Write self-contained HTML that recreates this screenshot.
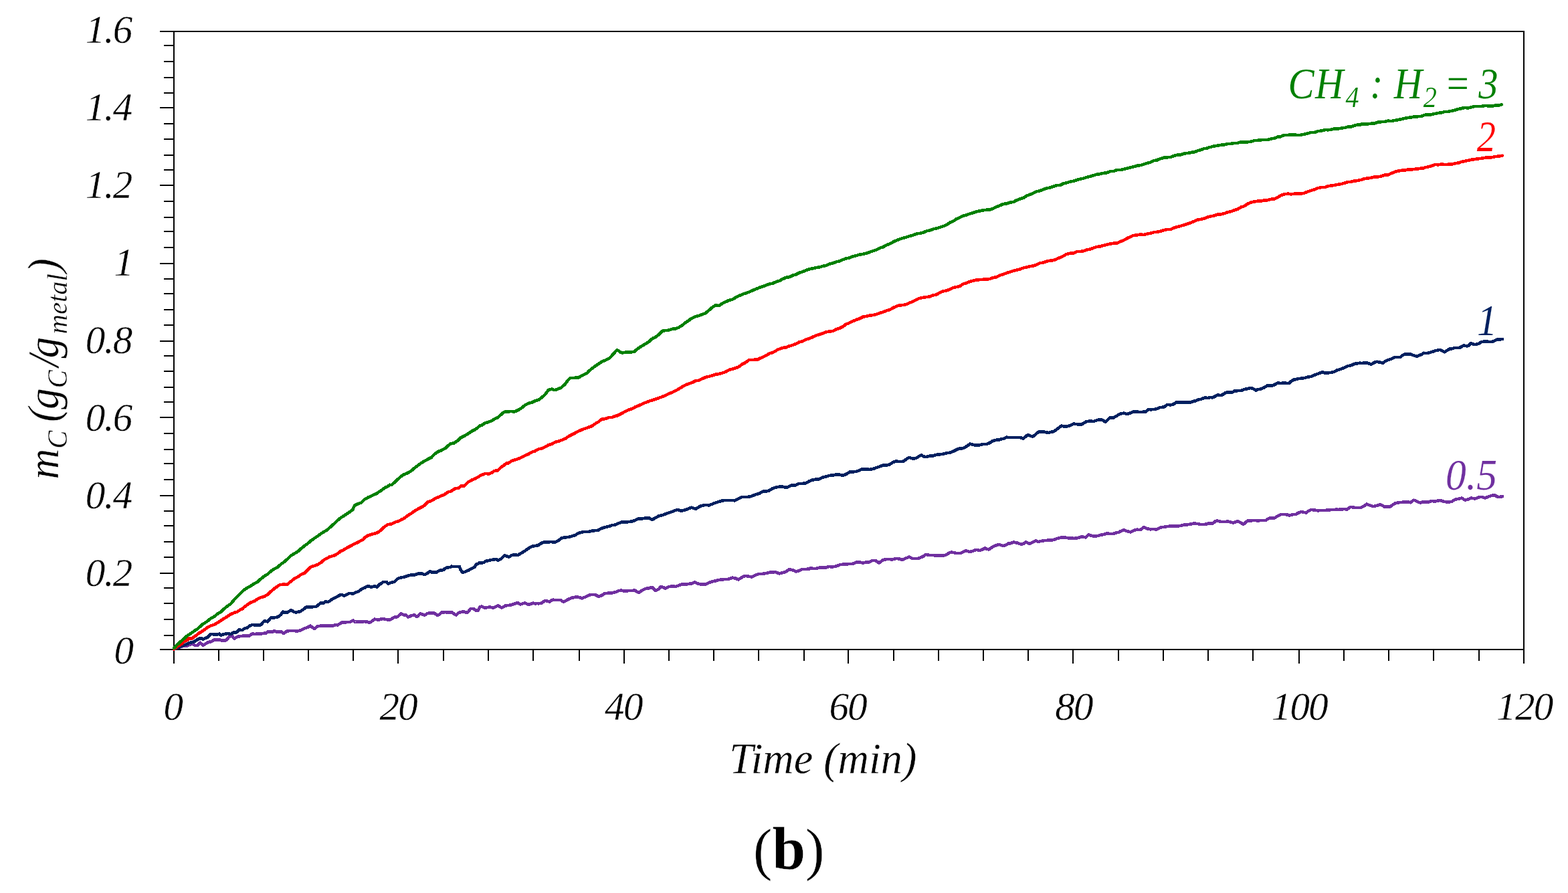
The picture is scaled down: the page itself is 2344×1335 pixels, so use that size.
<!DOCTYPE html>
<html lang="en"><head><meta charset="utf-8"><title>Carbon mass vs time (b)</title>
<style>html,body{margin:0;padding:0;background:#fff;overflow:hidden}svg{display:block}text{font-family:"Liberation Serif","DejaVu Serif",serif;font-style:italic;fill:#000;stroke:#fff;stroke-width:0.4px;stroke-linejoin:round}.tk{font-size:59px}.cap{font-style:normal}.b{font-weight:bold;font-style:normal}</style></head><body>
<svg width="2344" height="1335" viewBox="0 0 2344 1335">
<rect width="2344" height="1335" fill="#fff"/>
<g fill="#000" shape-rendering="crispEdges">
<rect x="259" y="46" width="2" height="926"/>
<rect x="239" y="970" width="2040" height="2"/>
<rect x="239" y="46" width="2040" height="2"/>
<rect x="2277" y="46" width="2" height="946"/>
<rect x="245" y="67" width="15" height="2"/>
<rect x="245" y="91" width="15" height="2"/>
<rect x="245" y="115" width="15" height="2"/>
<rect x="245" y="138" width="15" height="2"/>
<rect x="239" y="160" width="21" height="2"/>
<rect x="245" y="184" width="15" height="2"/>
<rect x="245" y="207" width="15" height="2"/>
<rect x="245" y="231" width="15" height="2"/>
<rect x="245" y="253" width="15" height="2"/>
<rect x="239" y="276" width="21" height="2"/>
<rect x="245" y="300" width="15" height="2"/>
<rect x="245" y="324" width="15" height="2"/>
<rect x="245" y="345" width="15" height="2"/>
<rect x="245" y="369" width="15" height="2"/>
<rect x="239" y="393" width="21" height="2"/>
<rect x="245" y="416" width="15" height="2"/>
<rect x="245" y="438" width="15" height="2"/>
<rect x="245" y="462" width="15" height="2"/>
<rect x="245" y="485" width="15" height="2"/>
<rect x="239" y="509" width="21" height="2"/>
<rect x="245" y="531" width="15" height="2"/>
<rect x="245" y="554" width="15" height="2"/>
<rect x="245" y="578" width="15" height="2"/>
<rect x="245" y="600" width="15" height="2"/>
<rect x="239" y="623" width="21" height="2"/>
<rect x="245" y="647" width="15" height="2"/>
<rect x="245" y="671" width="15" height="2"/>
<rect x="245" y="692" width="15" height="2"/>
<rect x="245" y="716" width="15" height="2"/>
<rect x="239" y="740" width="21" height="2"/>
<rect x="245" y="763" width="15" height="2"/>
<rect x="245" y="785" width="15" height="2"/>
<rect x="245" y="809" width="15" height="2"/>
<rect x="245" y="832" width="15" height="2"/>
<rect x="239" y="856" width="21" height="2"/>
<rect x="245" y="878" width="15" height="2"/>
<rect x="245" y="901" width="15" height="2"/>
<rect x="245" y="925" width="15" height="2"/>
<rect x="245" y="949" width="15" height="2"/>
<rect x="259" y="971" width="2" height="21"/>
<rect x="326" y="971" width="2" height="17"/>
<rect x="393" y="971" width="2" height="17"/>
<rect x="460" y="971" width="2" height="17"/>
<rect x="527" y="971" width="2" height="17"/>
<rect x="594" y="971" width="2" height="21"/>
<rect x="662" y="971" width="2" height="17"/>
<rect x="729" y="971" width="2" height="17"/>
<rect x="796" y="971" width="2" height="17"/>
<rect x="865" y="971" width="2" height="17"/>
<rect x="932" y="971" width="2" height="21"/>
<rect x="999" y="971" width="2" height="17"/>
<rect x="1066" y="971" width="2" height="17"/>
<rect x="1133" y="971" width="2" height="17"/>
<rect x="1201" y="971" width="2" height="17"/>
<rect x="1267" y="971" width="2" height="21"/>
<rect x="1335" y="971" width="2" height="17"/>
<rect x="1402" y="971" width="2" height="17"/>
<rect x="1469" y="971" width="2" height="17"/>
<rect x="1536" y="971" width="2" height="17"/>
<rect x="1603" y="971" width="2" height="21"/>
<rect x="1671" y="971" width="2" height="17"/>
<rect x="1738" y="971" width="2" height="17"/>
<rect x="1805" y="971" width="2" height="17"/>
<rect x="1872" y="971" width="2" height="17"/>
<rect x="1941" y="971" width="2" height="21"/>
<rect x="2008" y="971" width="2" height="17"/>
<rect x="2075" y="971" width="2" height="17"/>
<rect x="2142" y="971" width="2" height="17"/>
<rect x="2210" y="971" width="2" height="17"/>
</g>
<g fill="none" stroke-width="4.6" stroke-linejoin="round" stroke-linecap="round" shape-rendering="crispEdges">
<polyline stroke="#7030a0" points="260.0,970.3 265.0,968.9 270.0,966.9 275.0,965.4 280.0,965.3 285.0,963.5 287.5,962.6 290.0,963.7 292.5,965.2 295.0,965.1 299.4,960.8 303.8,964.8 310.0,960.8 312.6,959.6 315.0,959.5 317.6,958.1 320.0,956.7 325.0,956.2 328.8,956.5 331.3,957.6 335.0,957.4 337.6,957.2 340.0,954.9 342.6,952.1 345.0,951.1 347.0,950.9 350.0,954.8 355.0,951.9 360.0,951.1 365.0,950.5 370.0,950.7 372.6,950.5 375.0,948.9 377.6,947.1 380.0,947.9 385.0,947.7 390.0,947.5 395.0,946.6 397.6,946.7 400.0,944.3 405.0,944.5 407.6,944.6 410.0,943.0 413.9,944.6 420.0,944.1 423.9,947.1 428.9,943.6 435.0,942.8 440.0,943.1 445.0,943.5 450.0,942.1 455.0,939.6 460.0,937.8 463.9,935.7 470.0,940.1 475.0,936.0 480.0,935.7 485.0,935.6 490.0,935.6 495.0,935.5 497.7,935.8 500.0,934.6 501.5,934.1 505.0,934.3 510.0,931.1 511.5,930.4 515.0,930.5 520.0,930.0 524.0,929.7 527.7,927.5 530.0,929.3 531.5,929.5 535.0,929.5 540.0,929.8 542.1,929.5 545.0,929.0 546.8,929.6 550.0,929.8 551.8,930.7 555.0,929.5 560.0,925.6 565.0,926.6 566.8,926.7 570.0,925.3 573.0,925.1 575.0,925.6 579.3,926.4 584.3,926.2 588.0,923.5 590.0,922.6 593.0,922.5 595.0,921.5 596.8,919.9 599.9,917.3 602.4,918.9 605.0,919.5 606.8,919.3 610.0,922.6 615.0,920.3 619.3,919.4 623.1,922.2 625.0,920.8 628.1,917.5 630.0,918.0 635.0,919.6 639.3,916.9 643.1,916.3 645.0,916.3 649.3,916.5 653.1,919.4 655.0,919.5 656.8,918.7 660.0,915.7 665.0,915.2 670.0,915.3 675.0,915.2 680.0,918.6 681.9,919.4 685.0,916.7 686.9,915.6 690.0,914.8 691.9,914.3 694.4,914.7 698.1,916.1 700.0,914.4 703.1,910.4 705.0,910.0 708.1,910.0 710.0,911.7 711.9,912.7 715.0,912.5 717.5,906.9 720.0,906.7 724.4,908.8 730.0,907.9 731.9,907.2 735.0,908.1 736.9,908.8 740.0,907.5 744.4,905.1 750.0,908.7 755.0,905.7 760.0,904.9 764.4,904.4 768.2,902.8 770.0,902.5 773.2,900.9 775.0,901.8 778.2,903.5 780.0,902.9 784.5,901.3 790.0,903.9 795.0,902.4 797.0,901.6 800.0,902.3 803.2,902.1 805.0,902.3 810.0,901.4 815.0,897.8 820.0,899.1 822.0,899.5 825.0,897.2 827.0,896.6 830.0,897.1 835.0,896.8 838.5,896.8 840.0,898.4 843.0,899.7 845.0,898.5 850.0,895.7 855.0,893.7 860.0,892.7 865.0,892.8 870.0,894.3 875.0,892.4 880.0,889.9 883.6,889.1 890.0,889.2 895.0,891.9 900.0,890.0 903.6,887.3 910.0,886.6 915.0,886.3 920.0,885.2 925.0,883.2 928.6,882.4 933.6,883.8 940.0,883.0 945.0,883.0 948.6,882.3 954.9,886.2 960.0,882.4 965.0,879.9 970.0,879.4 974.9,877.8 980.0,883.0 985.0,880.4 987.4,877.1 990.0,877.4 995.0,879.7 1000.0,877.1 1005.0,876.3 1010.0,877.0 1015.0,875.1 1020.0,873.3 1025.0,873.8 1030.0,872.8 1033.7,872.6 1038.7,870.4 1045.0,873.1 1050.0,873.8 1055.0,873.3 1060.0,871.1 1065.0,869.4 1070.0,868.3 1075.0,866.9 1080.0,866.4 1085.0,865.9 1088.7,865.8 1095.0,863.7 1100.0,864.7 1103.7,866.5 1110.0,862.5 1113.8,860.9 1120.0,861.9 1123.8,862.5 1130.0,859.4 1133.8,858.2 1140.0,857.8 1145.0,857.0 1150.0,855.8 1155.0,855.7 1158.8,854.9 1165.0,857.5 1170.0,856.2 1173.8,855.2 1180.0,851.2 1185.0,852.3 1190.0,854.5 1195.0,853.2 1198.8,850.8 1205.0,850.9 1210.0,850.5 1212.6,848.9 1215.0,849.9 1218.8,850.2 1225.0,848.5 1230.0,848.7 1233.8,848.7 1238.8,847.1 1245.0,847.4 1250.0,846.5 1255.0,844.4 1260.0,843.6 1265.0,843.7 1270.0,842.8 1273.9,843.2 1280.0,840.6 1285.0,840.3 1290.0,841.6 1295.0,840.4 1298.9,840.4 1303.9,837.9 1308.9,838.0 1313.9,841.6 1320.0,837.1 1325.0,836.1 1330.0,836.0 1333.9,836.5 1340.0,834.9 1345.0,835.6 1349.0,836.9 1355.0,834.2 1359.0,832.7 1364.0,835.0 1370.0,835.1 1374.0,834.6 1380.0,831.8 1384.0,828.9 1390.0,830.1 1394.0,830.1 1400.0,830.4 1405.0,830.2 1410.0,830.5 1412.0,830.2 1415.0,829.0 1420.0,826.0 1422.0,825.5 1425.0,826.0 1429.5,826.9 1435.0,827.1 1437.0,826.7 1440.0,825.0 1443.3,823.2 1445.0,823.5 1449.5,825.0 1455.0,823.5 1458.3,822.2 1460.0,822.0 1465.0,823.0 1470.0,820.8 1472.0,819.3 1475.0,820.8 1478.3,821.4 1480.0,820.0 1485.0,817.1 1487.1,815.8 1490.0,815.1 1493.3,813.8 1495.0,814.6 1500.0,816.1 1505.0,814.0 1507.1,812.5 1510.0,812.4 1515.0,810.5 1517.1,811.0 1520.0,811.4 1525.0,813.1 1527.1,814.0 1530.0,812.8 1533.4,810.3 1535.0,810.9 1538.4,812.7 1540.0,812.5 1545.0,810.2 1548.4,808.1 1550.0,808.8 1552.1,810.2 1555.0,809.2 1559.6,808.3 1565.0,807.8 1570.0,807.7 1575.0,807.1 1577.1,806.3 1580.0,805.2 1585.0,803.9 1587.2,803.3 1590.0,803.5 1595.0,803.9 1597.2,804.4 1600.0,804.2 1605.0,804.9 1609.7,804.6 1615.0,803.2 1617.2,802.3 1620.0,802.9 1623.4,803.4 1625.0,801.6 1627.2,799.2 1630.0,800.3 1634.7,801.7 1640.0,801.2 1642.2,800.9 1645.0,799.8 1650.0,798.9 1654.7,797.5 1660.0,798.1 1664.7,797.8 1670.0,796.0 1672.2,795.8 1675.0,794.2 1680.0,792.2 1685.0,794.2 1689.7,795.4 1695.0,793.0 1699.8,791.7 1704.8,792.1 1709.8,788.2 1715.0,790.3 1717.3,790.8 1720.0,791.3 1725.0,790.9 1727.3,791.5 1730.0,791.2 1735.0,788.6 1737.3,788.2 1740.0,787.9 1744.8,786.9 1750.0,786.7 1755.0,786.5 1760.0,786.7 1764.8,785.8 1770.0,784.7 1772.3,784.7 1775.0,784.3 1780.0,783.5 1784.8,782.5 1790.0,783.0 1795.0,784.1 1799.8,784.2 1805.0,783.1 1807.3,782.2 1810.0,782.2 1812.3,782.6 1815.0,780.9 1817.4,778.9 1820.0,778.5 1825.0,779.9 1830.0,780.0 1835.0,779.7 1837.4,779.8 1840.0,780.7 1843.6,781.7 1849.9,779.0 1855.0,781.6 1858.6,784.0 1865.0,778.5 1870.0,778.5 1875.0,777.8 1880.0,778.4 1885.0,778.1 1890.0,778.0 1892.4,777.9 1895.0,775.9 1898.7,774.3 1904.9,774.7 1910.0,771.4 1915.0,769.2 1919.9,768.8 1925.0,769.7 1927.4,770.4 1930.0,769.8 1935.0,768.8 1937.4,768.9 1940.0,767.1 1945.0,765.0 1950.0,766.0 1952.5,766.5 1955.0,764.7 1960.0,762.0 1965.0,762.5 1970.0,763.4 1975.0,762.8 1980.0,763.0 1985.0,762.5 1987.5,762.6 1990.0,762.0 1995.0,762.2 1998.0,761.4 2000.0,762.0 2005.0,761.4 2010.0,761.1 2013.2,761.6 2015.0,760.6 2018.2,758.4 2020.0,757.9 2025.0,758.9 2030.0,759.2 2035.0,758.7 2040.0,756.0 2043.2,753.4 2045.0,754.6 2050.0,756.1 2053.2,757.2 2055.0,756.5 2060.0,755.3 2063.3,754.4 2065.0,755.0 2070.0,757.7 2075.0,757.3 2078.3,757.5 2080.0,756.0 2085.0,752.7 2090.0,751.4 2095.0,751.0 2100.0,750.4 2105.0,750.5 2108.3,751.3 2110.0,750.2 2113.3,747.7 2115.0,748.1 2120.0,750.6 2123.3,751.6 2125.0,750.8 2130.0,750.7 2133.3,750.4 2135.0,750.6 2140.0,749.0 2145.0,749.5 2150.0,748.5 2153.3,747.8 2155.0,748.8 2160.0,750.1 2165.0,750.5 2168.4,750.1 2170.0,749.9 2175.0,746.9 2178.4,745.9 2180.0,745.9 2185.0,744.5 2190.0,747.5 2195.0,746.5 2198.4,744.7 2200.0,744.6 2205.0,745.6 2210.0,743.7 2213.4,742.8 2215.0,742.8 2220.0,744.4 2225.0,742.5 2230.0,740.8 2235.0,740.7 2239.7,743.1 2245.9,742.2"/>
<polyline stroke="#002060" points="260.0,970.3 265.0,969.0 270.0,966.6 275.0,964.5 280.0,962.9 282.5,961.3 285.0,960.7 290.0,959.5 295.0,956.2 300.0,953.8 303.8,955.7 310.0,952.8 315.0,947.8 320.0,948.4 325.0,948.3 327.6,947.6 330.0,949.6 335.0,948.0 340.0,947.1 342.6,947.3 345.0,948.1 349.5,945.2 353.8,945.3 357.6,941.1 360.0,941.9 362.6,942.0 365.0,939.8 370.0,938.4 372.6,935.9 375.0,934.8 377.6,934.1 380.0,934.3 385.0,934.5 390.0,934.2 395.0,928.3 400.0,929.3 405.0,923.5 410.0,923.3 415.0,922.6 420.0,918.9 422.6,914.6 425.0,915.3 427.6,915.6 430.0,915.3 435.0,912.2 440.0,914.9 442.7,915.7 445.0,914.9 448.9,914.2 455.0,909.9 457.7,907.5 460.0,907.7 465.0,907.6 470.0,906.9 472.7,907.0 475.0,905.1 479.0,901.5 484.0,901.4 486.4,899.5 490.0,899.9 491.5,899.4 495.0,896.9 496.5,895.8 500.0,894.2 501.5,893.4 505.0,891.3 510.0,888.8 514.6,890.7 520.0,887.9 521.5,887.0 525.0,887.1 526.5,887.8 530.0,886.5 531.5,885.6 535.0,884.6 536.5,883.7 540.0,881.2 542.1,879.9 545.0,878.8 550.0,876.0 555.0,877.6 560.0,876.3 563.6,877.7 566.8,873.8 570.0,872.3 573.0,870.0 575.0,869.8 578.0,870.2 580.0,872.6 585.0,870.9 590.0,869.5 594.3,865.0 599.3,863.4 604.3,862.7 608.1,861.2 610.0,860.5 614.3,859.6 620.0,859.4 621.8,858.8 624.3,857.7 630.0,857.3 631.8,858.0 635.0,859.2 639.3,856.7 643.1,854.2 645.0,855.5 646.8,855.9 650.0,855.5 653.1,855.3 655.0,853.8 658.1,852.5 660.0,852.5 663.1,852.1 665.0,849.9 668.1,848.3 670.0,848.4 673.1,847.9 675.0,846.7 680.0,847.2 685.0,847.1 686.9,847.0 688.8,852.5 691.9,855.9 695.0,854.9 696.9,854.0 700.0,852.8 701.9,851.5 705.0,850.2 709.4,847.6 711.9,843.7 715.0,842.7 716.9,841.3 720.0,841.6 723.2,840.9 725.0,839.6 726.9,838.7 730.0,838.2 735.0,837.0 740.0,836.1 741.9,836.3 745.0,837.7 749.4,835.2 754.4,830.1 758.2,831.9 760.0,832.4 761.9,832.2 765.0,829.9 770.0,829.6 774.4,829.9 778.2,827.5 780.0,826.5 785.0,823.3 790.0,819.8 792.0,818.3 795.0,816.9 798.2,816.3 800.0,816.1 804.5,815.2 809.5,811.8 814.5,810.1 820.0,810.7 823.2,809.9 825.0,810.2 829.5,810.5 835.0,808.0 840.0,804.2 845.0,803.4 850.0,802.9 855.0,801.5 860.0,800.0 865.0,796.8 868.5,795.9 870.0,795.5 875.0,794.8 880.0,794.9 885.0,793.7 890.0,793.1 893.6,793.0 898.6,790.0 905.0,788.1 910.0,787.0 915.0,785.2 920.0,784.5 925.0,782.2 930.0,780.4 935.0,780.6 940.0,780.1 945.0,779.5 950.0,777.4 953.6,775.6 960.0,775.3 965.0,774.5 970.0,774.2 975.0,777.0 980.0,774.0 985.0,771.3 990.0,770.2 995.0,768.3 1000.0,766.4 1005.0,764.9 1010.0,762.8 1012.4,762.1 1015.0,762.6 1018.7,763.8 1025.0,762.1 1030.0,760.0 1033.7,758.7 1039.9,760.8 1045.0,757.7 1048.7,756.0 1055.0,754.9 1060.0,755.4 1065.0,753.4 1070.0,751.4 1075.0,749.9 1080.0,748.4 1085.0,747.9 1090.0,748.1 1095.0,748.1 1098.7,748.3 1105.0,745.1 1108.7,743.0 1115.0,743.2 1120.0,742.6 1125.0,741.2 1130.0,739.1 1135.0,737.9 1140.0,734.8 1145.0,734.5 1148.8,733.9 1155.0,730.3 1158.8,728.8 1165.0,727.7 1168.8,727.3 1175.0,729.0 1180.0,727.2 1183.8,725.2 1188.8,725.7 1193.8,722.9 1200.0,722.8 1203.8,722.7 1210.0,719.3 1213.8,717.8 1220.0,716.4 1223.8,716.5 1230.0,713.7 1235.0,712.4 1240.0,710.9 1245.0,710.6 1250.0,709.3 1255.0,709.7 1260.0,710.7 1265.0,708.9 1270.0,705.7 1275.0,705.4 1280.0,705.0 1285.0,703.0 1288.9,701.3 1295.0,701.3 1300.0,701.9 1305.0,701.1 1310.0,699.1 1315.0,697.5 1320.0,695.4 1325.0,695.5 1328.9,694.8 1335.0,691.1 1338.9,689.5 1345.0,690.1 1350.0,690.0 1355.0,686.3 1359.0,683.9 1365.0,685.9 1370.0,684.7 1375.0,681.4 1377.7,680.5 1380.0,682.0 1384.0,683.2 1390.0,681.6 1395.0,681.3 1399.0,679.9 1405.0,679.3 1410.0,678.7 1412.0,678.2 1415.0,677.3 1420.0,676.7 1424.5,675.0 1430.0,672.2 1433.3,670.7 1435.0,670.3 1440.0,670.2 1445.0,667.2 1450.0,663.7 1455.0,665.0 1460.0,665.7 1464.5,665.4 1470.0,663.8 1475.0,663.9 1480.0,661.9 1483.3,659.5 1485.0,659.0 1490.0,657.6 1495.0,657.2 1497.1,656.2 1500.0,655.9 1505.0,653.7 1510.0,654.2 1515.0,653.9 1520.0,653.8 1524.6,653.9 1529.6,655.7 1535.0,651.2 1537.1,650.1 1540.0,651.6 1543.4,652.6 1545.0,652.0 1550.0,647.7 1553.4,645.0 1555.0,645.7 1560.0,645.6 1562.1,645.9 1565.0,646.5 1568.4,647.0 1570.0,646.0 1575.0,645.1 1577.1,643.9 1580.0,641.6 1585.0,637.8 1587.2,636.6 1590.0,637.4 1594.7,637.6 1600.0,636.2 1604.7,633.6 1610.0,634.2 1615.0,634.6 1617.2,634.4 1620.0,632.5 1624.7,629.9 1630.0,629.7 1634.7,629.9 1640.0,628.2 1642.2,627.4 1645.0,627.9 1647.2,627.6 1650.0,629.0 1652.2,630.9 1655.0,628.6 1658.5,625.0 1660.0,624.3 1664.7,624.4 1670.0,621.5 1673.5,618.9 1675.0,618.7 1680.0,617.6 1684.7,619.1 1690.0,617.3 1693.5,615.7 1695.0,615.4 1700.0,615.6 1705.0,616.2 1710.0,615.5 1712.3,615.6 1715.0,613.7 1717.3,612.0 1720.0,612.3 1724.8,612.1 1730.0,610.9 1732.3,609.8 1735.0,608.9 1739.8,608.7 1744.8,604.9 1750.0,605.4 1752.3,605.0 1755.0,604.0 1758.6,601.4 1765.0,601.5 1770.0,601.5 1775.0,601.6 1777.3,601.6 1780.0,601.3 1785.0,599.7 1787.3,599.3 1790.0,597.9 1795.0,596.8 1800.0,594.9 1802.3,594.4 1805.0,595.0 1810.0,594.0 1812.3,594.4 1815.0,593.4 1819.8,590.6 1825.0,590.9 1827.4,590.4 1830.0,588.4 1832.4,587.1 1835.0,586.4 1840.0,586.7 1842.4,586.5 1845.0,584.6 1850.0,584.2 1855.0,584.1 1859.9,582.0 1865.0,581.1 1869.9,580.0 1875.0,581.8 1877.4,583.5 1880.0,582.3 1885.0,581.6 1889.9,579.3 1894.9,576.3 1900.0,576.5 1902.4,576.4 1905.0,575.3 1909.9,572.7 1915.0,572.9 1920.0,572.4 1925.0,573.1 1927.4,572.6 1930.0,570.2 1933.7,567.8 1940.0,566.4 1945.0,565.6 1950.0,565.1 1955.0,563.7 1960.0,562.8 1965.0,560.8 1967.5,559.6 1970.0,559.0 1975.0,556.8 1977.5,556.5 1980.0,557.3 1982.5,557.7 1985.0,557.5 1990.0,556.8 1992.5,556.3 1995.0,555.6 1998.0,553.7 2000.0,553.2 2005.0,551.5 2010.0,549.6 2013.2,547.9 2015.0,547.2 2020.0,546.2 2023.2,544.7 2025.0,543.8 2030.0,543.2 2033.2,542.7 2035.0,543.0 2040.0,542.6 2043.2,542.4 2045.0,542.9 2049.5,544.8 2055.0,541.7 2058.3,540.7 2060.0,541.2 2065.0,542.0 2067.0,542.8 2070.0,540.6 2075.0,538.1 2080.0,536.5 2085.0,534.1 2090.0,534.2 2093.3,533.9 2095.0,532.4 2098.3,530.1 2100.0,529.4 2105.0,529.3 2108.3,529.4 2110.0,530.1 2115.0,531.9 2118.3,532.8 2120.0,531.9 2125.0,530.0 2128.3,527.8 2130.0,528.1 2135.0,527.7 2140.0,526.2 2143.3,525.2 2145.0,524.4 2150.0,523.4 2153.3,522.9 2155.0,524.2 2159.6,526.3 2165.0,522.7 2168.4,521.1 2170.0,521.5 2175.0,519.9 2180.0,520.0 2183.4,519.3 2185.0,518.0 2188.4,516.2 2190.0,517.0 2193.4,517.3 2195.0,516.9 2198.4,513.6 2200.0,513.7 2205.0,515.1 2210.0,513.9 2215.0,511.1 2220.0,510.4 2225.0,510.8 2230.0,511.2 2235.0,508.9 2238.4,507.6 2240.0,507.6 2245.9,507.0"/>
<polyline stroke="#ff0000" points="260.0,970.3 265.0,966.5 270.0,963.6 275.0,959.5 280.0,957.0 282.5,954.5 285.0,954.8 287.5,954.2 290.0,952.2 295.0,948.7 297.5,946.3 300.0,945.3 305.0,941.8 308.8,939.0 315.0,935.4 320.0,933.9 325.0,931.0 330.0,927.9 335.0,924.6 340.0,921.6 345.0,918.1 350.0,916.0 352.6,915.2 355.0,914.5 360.0,910.8 362.6,910.2 365.0,907.6 370.0,904.0 372.6,902.0 375.0,900.6 380.0,898.9 385.0,895.6 388.9,893.4 395.0,891.9 400.0,888.8 403.9,885.0 410.0,880.0 415.0,876.3 418.9,874.0 425.0,873.6 428.9,874.0 435.0,869.1 440.0,865.1 445.0,862.7 450.0,859.0 455.0,856.8 460.0,851.8 465.0,847.3 470.0,845.8 475.0,844.0 480.0,840.8 485.0,836.5 490.0,834.0 492.7,832.4 495.0,831.8 500.0,830.4 502.7,828.9 505.0,827.3 510.0,823.5 511.5,823.4 515.0,821.2 520.0,818.3 522.7,817.0 525.0,815.8 530.0,813.1 532.7,811.9 535.0,810.8 540.0,807.8 543.0,806.8 545.0,803.9 550.0,800.6 555.0,799.0 560.0,797.7 565.0,795.9 570.0,792.0 572.6,789.3 575.0,787.4 580.0,783.9 585.0,783.7 590.0,780.8 595.0,779.4 600.0,776.8 603.9,774.9 610.0,770.4 615.0,767.3 618.9,764.5 625.0,760.8 630.0,758.3 632.6,757.0 635.0,755.1 638.9,750.8 645.0,748.6 647.7,747.1 650.0,745.3 655.0,743.3 660.0,741.2 665.0,738.9 670.0,735.4 673.9,734.6 680.0,730.4 685.0,729.9 690.0,726.2 694.0,726.3 700.0,720.7 705.0,717.7 710.0,715.8 715.0,713.0 719.0,710.4 725.0,708.2 726.5,707.9 730.0,708.7 731.5,708.0 735.0,706.8 739.0,703.9 744.0,703.3 750.0,697.8 753.0,695.9 755.0,694.2 757.6,692.5 760.0,692.3 765.0,689.0 770.0,687.4 775.0,685.8 780.0,683.4 785.0,681.0 790.0,678.8 795.0,675.8 800.0,674.3 805.0,671.4 810.0,670.4 815.0,668.2 820.0,665.2 825.0,663.9 830.0,660.8 835.0,659.6 840.0,657.9 845.0,655.8 850.0,652.3 855.0,649.7 860.0,647.2 865.0,644.6 870.0,642.3 875.0,640.5 880.0,638.7 885.0,637.0 887.8,634.9 890.0,633.3 895.0,630.3 897.8,627.9 900.0,626.6 905.0,626.1 910.0,624.1 915.0,624.0 920.0,621.8 922.8,621.5 925.0,620.3 930.0,617.8 935.0,614.9 940.0,612.7 945.0,610.9 950.0,608.3 955.0,606.3 960.0,603.9 965.0,601.8 970.0,599.9 975.0,598.3 980.0,596.7 985.0,594.9 990.0,593.1 995.0,591.2 1000.0,588.5 1005.0,586.4 1010.0,584.1 1015.0,581.3 1020.0,578.1 1025.0,575.5 1030.0,573.5 1035.0,571.7 1040.0,569.2 1045.0,568.7 1050.0,566.1 1055.0,563.9 1060.0,562.8 1065.0,561.4 1070.0,559.7 1075.0,559.0 1080.0,557.5 1085.0,555.9 1090.0,552.8 1095.0,551.6 1100.0,550.1 1105.0,548.0 1110.0,544.2 1115.0,541.7 1120.0,538.0 1125.0,538.1 1130.0,537.5 1133.0,537.7 1135.0,536.2 1140.0,534.1 1145.0,531.6 1150.0,528.5 1155.0,527.0 1160.0,524.4 1163.0,522.4 1165.0,521.8 1170.0,520.0 1175.0,519.3 1180.0,517.3 1185.0,516.0 1190.0,513.9 1195.0,511.3 1200.0,510.1 1205.0,507.4 1210.0,506.1 1215.0,503.8 1220.0,501.4 1225.0,500.1 1230.0,498.3 1235.0,496.3 1240.0,495.6 1245.0,495.0 1250.0,492.3 1255.0,490.7 1260.0,488.3 1265.0,484.5 1268.6,483.3 1275.0,480.1 1280.0,478.1 1285.0,476.3 1290.0,473.7 1295.0,472.9 1300.0,471.6 1305.0,471.1 1310.0,470.0 1315.0,468.0 1318.6,467.1 1325.0,464.5 1330.0,463.1 1335.0,460.2 1340.0,457.9 1343.6,456.7 1350.0,456.0 1355.0,454.9 1360.0,452.5 1365.0,450.7 1370.0,447.9 1375.0,445.8 1380.0,444.8 1385.0,444.1 1390.0,443.3 1395.0,441.3 1400.0,440.4 1405.0,437.6 1408.7,435.7 1415.0,434.5 1420.0,432.4 1425.0,430.1 1430.0,429.0 1435.0,427.8 1440.0,424.4 1445.0,423.0 1450.0,420.8 1455.0,419.7 1460.0,418.5 1465.0,418.1 1470.0,417.7 1475.0,417.5 1480.0,416.9 1485.0,415.0 1490.0,414.2 1495.0,411.5 1500.0,410.0 1505.0,408.0 1510.0,406.6 1515.0,404.8 1520.0,403.6 1525.0,402.3 1530.0,400.4 1535.0,399.4 1540.0,398.0 1545.0,397.5 1550.0,395.5 1555.0,393.2 1560.0,392.6 1565.0,390.4 1570.0,389.7 1575.0,389.1 1578.8,387.5 1585.0,384.9 1590.0,382.7 1593.8,380.1 1600.0,378.6 1605.0,378.3 1610.0,376.1 1615.0,376.0 1620.0,375.2 1623.9,373.7 1630.0,372.4 1635.0,370.6 1640.0,368.9 1645.0,368.4 1648.9,367.1 1655.0,365.6 1660.0,364.5 1665.0,363.7 1670.0,363.6 1675.0,361.1 1680.0,359.0 1685.0,356.2 1690.0,354.0 1693.9,352.1 1700.0,351.3 1705.0,350.5 1710.0,351.0 1715.0,349.6 1720.0,348.6 1725.0,347.2 1730.0,346.7 1735.0,345.8 1736.5,345.1 1740.0,344.2 1745.0,342.9 1750.0,342.9 1751.5,342.4 1755.0,340.6 1760.0,339.0 1765.0,337.8 1770.0,336.3 1775.0,334.7 1780.0,332.9 1783.0,331.6 1785.0,331.1 1790.0,328.7 1795.0,327.9 1800.0,326.7 1805.0,324.6 1808.0,323.9 1810.0,323.4 1815.0,322.4 1820.0,320.5 1825.0,320.4 1830.0,319.2 1835.0,317.4 1840.0,316.2 1845.0,314.3 1850.0,312.8 1855.0,309.7 1860.0,308.2 1865.0,304.8 1870.0,302.6 1875.0,301.5 1880.0,300.7 1885.0,300.7 1890.0,299.5 1895.0,299.2 1900.0,297.8 1903.1,297.6 1905.0,297.4 1910.0,294.9 1915.0,292.1 1920.0,290.4 1925.0,289.6 1930.0,290.3 1935.0,289.7 1940.0,289.8 1945.0,289.6 1950.0,288.6 1955.0,286.5 1960.0,284.9 1965.0,283.3 1970.0,281.2 1975.0,280.1 1980.0,280.2 1985.0,278.4 1990.0,277.5 1995.0,276.9 2000.0,275.8 2005.0,275.1 2010.0,273.6 2015.0,272.1 2020.0,271.7 2025.0,270.5 2030.0,270.0 2033.2,268.8 2035.0,268.8 2040.0,267.0 2045.0,266.6 2050.0,265.6 2055.0,264.3 2060.0,264.4 2065.0,263.4 2070.0,261.7 2073.3,261.5 2075.0,261.4 2080.0,259.1 2085.0,257.0 2090.0,255.7 2095.0,254.8 2100.0,254.5 2105.0,253.5 2110.0,253.5 2115.0,252.8 2120.0,252.4 2125.0,251.4 2128.3,251.5 2130.0,250.4 2135.0,249.5 2140.0,248.1 2145.0,246.0 2150.0,246.3 2155.0,245.4 2160.0,246.2 2165.0,245.7 2170.0,245.8 2175.0,244.3 2180.0,243.6 2185.0,241.9 2190.0,240.9 2195.0,239.8 2200.0,238.6 2203.4,238.4 2205.0,238.0 2210.0,237.4 2215.0,236.6 2220.0,235.9 2225.0,235.2 2228.4,235.4 2230.0,235.2 2235.0,234.2 2240.0,233.6 2245.9,232.7"/>
<polyline stroke="#008000" points="260.0,969.0 265.0,963.7 268.8,960.2 275.0,954.9 278.8,951.1 285.0,947.1 290.0,943.6 295.0,940.3 300.0,936.0 302.5,933.4 305.0,932.0 310.0,928.7 315.0,924.4 320.0,922.0 325.0,917.8 327.6,916.2 330.0,914.9 335.0,910.2 340.0,906.1 345.0,902.6 350.0,896.7 355.0,891.7 360.0,886.7 362.6,883.7 365.0,881.8 370.0,878.5 375.0,875.9 380.0,872.4 385.0,869.9 387.6,867.5 390.0,865.3 395.0,861.5 400.0,858.4 405.0,853.9 410.0,850.5 415.0,847.9 420.0,843.4 422.6,841.6 425.0,839.8 430.0,835.5 433.9,831.4 440.0,827.5 445.0,824.7 450.0,820.2 455.0,816.2 460.0,812.6 465.0,808.2 470.0,804.7 475.0,801.4 480.0,797.5 485.0,794.7 490.0,791.6 495.0,786.9 500.0,782.5 505.0,777.6 510.0,773.5 515.0,770.6 518.8,768.0 525.0,763.7 527.6,761.4 530.0,755.7 535.0,753.2 540.0,751.6 545.0,746.6 550.0,743.8 555.0,741.6 560.0,739.1 562.6,738.1 565.0,736.3 568.8,734.0 575.0,729.3 577.6,728.0 580.0,727.0 582.6,724.8 585.0,725.1 590.0,721.2 595.0,716.2 600.0,711.9 603.9,709.3 610.0,706.9 615.0,703.7 620.0,699.3 625.0,695.6 630.0,692.0 635.0,689.1 640.0,686.3 645.0,683.8 650.0,678.5 652.7,676.8 655.0,675.1 660.0,673.3 662.7,671.6 665.0,670.7 670.0,666.1 673.9,663.2 678.9,662.4 685.0,658.1 689.0,654.2 695.0,651.2 697.7,649.8 700.0,648.2 705.0,644.7 710.0,642.3 715.0,638.7 717.6,636.3 720.0,635.8 725.0,632.5 730.0,631.0 735.0,629.1 740.0,626.0 742.6,625.0 745.0,623.5 750.0,618.9 753.1,616.2 755.0,615.4 760.0,615.3 765.0,615.1 768.9,615.6 775.0,612.9 780.0,609.7 785.0,605.4 790.0,603.0 795.0,601.7 800.0,599.2 805.0,597.8 810.0,594.1 815.0,589.6 820.0,583.0 825.0,581.7 827.7,582.9 830.0,583.1 835.0,581.0 839.0,579.6 845.0,573.9 850.0,567.4 852.7,565.2 855.0,565.1 860.0,564.7 865.0,564.3 870.0,561.6 875.0,558.9 877.7,557.8 880.0,555.1 885.0,550.8 890.0,547.0 895.0,544.0 900.0,540.3 905.0,538.6 910.0,536.1 912.8,533.8 915.0,531.2 920.0,525.7 922.3,523.4 925.0,524.6 927.8,526.7 930.0,527.5 935.0,526.7 940.0,526.6 945.0,526.2 947.8,526.1 950.0,524.0 955.0,520.0 960.0,516.9 965.0,514.0 970.0,511.0 975.0,506.3 980.0,503.9 985.0,500.0 990.0,494.9 995.0,494.1 1000.0,493.6 1005.0,491.8 1010.0,491.3 1015.0,489.4 1020.0,486.1 1025.0,482.2 1030.0,478.9 1032.9,476.4 1035.0,475.5 1040.0,473.0 1045.0,471.8 1050.0,469.9 1052.9,468.9 1055.0,467.8 1060.0,463.7 1065.0,459.3 1069.2,456.6 1075.0,456.9 1080.0,453.5 1085.0,451.2 1090.0,448.8 1095.0,447.6 1100.0,444.5 1105.0,442.2 1110.0,439.9 1115.0,438.3 1120.0,436.5 1125.0,434.3 1130.0,431.9 1133.0,431.2 1135.0,430.0 1140.0,428.4 1145.0,426.6 1150.0,424.5 1155.0,423.7 1160.0,421.4 1163.0,420.3 1165.0,419.9 1170.0,417.1 1175.0,414.9 1180.0,414.2 1185.0,411.7 1190.0,410.3 1195.0,407.7 1200.0,406.2 1205.0,404.0 1210.0,402.3 1215.0,401.3 1220.0,400.1 1225.0,399.5 1230.0,397.9 1235.0,397.0 1240.0,394.7 1245.0,393.5 1250.0,391.4 1255.0,390.4 1260.0,388.2 1265.0,386.4 1270.0,385.4 1273.6,383.7 1280.0,382.1 1285.0,380.5 1290.0,380.0 1295.0,378.7 1298.6,377.4 1305.0,375.1 1310.0,373.5 1315.0,370.8 1320.0,369.4 1325.0,366.3 1330.0,364.7 1335.0,361.7 1340.0,359.4 1345.0,357.5 1350.0,355.8 1355.0,354.6 1360.0,352.8 1365.0,351.6 1370.0,349.5 1375.0,348.8 1380.0,347.7 1385.0,345.4 1390.0,344.5 1395.0,342.4 1400.0,341.4 1405.0,339.8 1410.0,338.2 1415.0,336.2 1420.0,332.7 1425.0,330.7 1430.0,327.2 1435.0,325.2 1438.7,322.9 1445.0,321.3 1450.0,319.4 1453.7,318.5 1460.0,316.4 1465.0,315.3 1470.0,314.3 1475.0,313.7 1480.0,313.4 1485.0,311.5 1490.0,309.1 1495.0,307.1 1500.0,304.9 1505.0,304.5 1510.0,302.5 1515.0,301.9 1520.0,299.2 1525.0,297.3 1530.0,295.8 1535.0,292.6 1540.0,290.7 1545.0,288.5 1550.0,286.2 1555.0,285.1 1560.0,283.1 1565.0,281.3 1570.0,280.4 1573.8,279.1 1580.0,277.1 1585.0,276.7 1590.0,274.2 1595.0,273.1 1600.0,271.6 1605.0,270.7 1610.0,269.0 1615.0,267.7 1620.0,266.6 1625.0,264.8 1630.0,263.6 1635.0,262.1 1640.0,260.7 1645.0,260.0 1648.9,259.0 1655.0,258.2 1660.0,256.0 1665.0,255.9 1670.0,254.0 1675.0,254.0 1680.0,253.0 1685.0,251.5 1690.0,250.3 1695.0,249.2 1700.0,247.7 1705.0,247.1 1710.0,245.5 1715.0,243.8 1720.0,242.6 1725.0,240.1 1730.0,239.3 1735.0,236.9 1736.5,236.8 1740.0,235.6 1745.0,235.3 1750.0,234.9 1755.0,232.9 1760.0,231.7 1765.0,231.3 1770.0,229.6 1775.0,229.0 1780.0,228.2 1783.0,227.4 1785.0,227.6 1790.0,225.4 1795.0,224.2 1800.0,222.0 1805.0,221.7 1808.0,220.0 1810.0,219.8 1815.0,218.4 1820.0,217.7 1825.0,216.8 1830.0,216.3 1835.0,215.1 1840.0,214.8 1845.0,214.1 1850.0,213.8 1855.0,212.3 1860.0,212.5 1865.0,212.4 1870.0,211.6 1875.0,210.2 1880.0,209.8 1885.0,209.3 1890.0,208.9 1895.0,209.0 1900.0,207.5 1905.0,206.7 1910.0,204.6 1915.0,204.2 1918.1,202.6 1920.0,202.1 1925.0,201.9 1930.0,201.5 1935.0,201.3 1940.0,202.2 1945.0,201.7 1950.0,200.6 1955.0,199.5 1960.0,197.9 1965.0,198.2 1970.0,196.1 1975.0,195.6 1980.0,194.3 1983.2,193.9 1985.0,194.4 1990.0,193.6 1995.0,192.3 2000.0,192.5 2005.0,191.6 2008.2,191.2 2010.0,191.1 2015.0,189.6 2020.0,189.4 2025.0,187.7 2030.0,186.4 2033.2,186.6 2035.0,185.7 2040.0,185.8 2045.0,185.4 2050.0,184.6 2055.0,184.3 2060.0,182.7 2065.0,182.2 2070.0,182.0 2075.0,180.6 2080.0,181.2 2083.3,180.2 2085.0,180.1 2090.0,179.1 2095.0,178.2 2100.0,176.9 2105.0,175.9 2110.0,175.3 2115.0,174.2 2120.0,174.2 2125.0,173.7 2130.0,171.8 2135.0,171.2 2140.0,171.2 2145.0,170.0 2150.0,168.9 2155.0,168.5 2158.3,167.5 2160.0,166.8 2165.0,166.9 2170.0,165.8 2175.0,164.6 2180.0,163.0 2183.4,162.6 2185.0,161.8 2190.0,160.9 2195.0,161.5 2200.0,160.0 2205.0,158.9 2208.4,159.0 2210.0,158.8 2215.0,158.9 2220.0,158.0 2225.0,158.4 2230.0,158.3 2233.4,158.2 2235.0,157.6 2240.0,157.7 2244.7,156.3"/>
</g>
<g class="tk" text-anchor="end" letter-spacing="-1.7">
<text x="196.5" y="64.1">1.6</text>
<text x="196.5" y="180.0">1.4</text>
<text x="196.5" y="295.9">1.2</text>
<text x="198.2" y="411.9">1</text>
<text x="196.5" y="527.8">0.8</text>
<text x="196.5" y="643.7">0.6</text>
<text x="196.5" y="759.6">0.4</text>
<text x="196.5" y="875.5">0.2</text>
<text x="198.2" y="991.5">0</text>
</g>
<g class="tk" text-anchor="middle" letter-spacing="-1.7">
<text x="258.5" y="1075.8">0</text>
<text x="595.2" y="1075.8">20</text>
<text x="931.9" y="1075.8">40</text>
<text x="1267.3" y="1075.8">60</text>
<text x="1605.1" y="1075.8">80</text>
<text x="1942.4" y="1075.8">100</text>
<text x="2278.8" y="1075.8">120</text>
</g>
<text x="1230.3" y="1156.3" text-anchor="middle" font-size="65.5" textLength="280" lengthAdjust="spacingAndGlyphs">Time (min)</text>
<text transform="translate(86.5 551.5) rotate(-90)" text-anchor="middle" font-size="65.5" textLength="330" lengthAdjust="spacingAndGlyphs">m<tspan font-size="42" dy="13">C</tspan><tspan dy="-13" dx="-3.5"> (</tspan><tspan dx="-2">g</tspan><tspan font-size="42" dy="13" dx="0">C</tspan><tspan dy="-13" dx="5">/</tspan><tspan dx="-5">g</tspan><tspan font-size="42" dy="13" dx="4.5">metal</tspan><tspan dy="-13" dx="1.5">)</tspan></text>
<text class="cap" x="1179.2" y="1298.6" text-anchor="middle" font-size="87" textLength="106.5" lengthAdjust="spacingAndGlyphs">(<tspan class="b" font-size="91">b</tspan>)</text>
<text x="2239.5" y="147.3" text-anchor="end" font-size="65.5" style="fill:#008000;stroke-width:0.15px" textLength="314" lengthAdjust="spacingAndGlyphs">C<tspan dx="1.5">H</tspan><tspan font-size="45" dy="12.4" dx="3.5">4</tspan><tspan dy="-12.4" dx="2"> :</tspan><tspan dx="1.5"> H</tspan><tspan font-size="45" dy="12.4" dx="2">2</tspan><tspan dy="-12.4" dx="-4"> =</tspan><tspan dx="-3.5"> 3</tspan></text>
<text x="2236.0" y="225.9" text-anchor="end" font-size="65.5" style="fill:#ff0000;stroke-width:0.15px" textLength="28.2" lengthAdjust="spacingAndGlyphs">2</text>
<text x="2238" y="501.2" text-anchor="end" font-size="65.5" style="fill:#002060;stroke-width:0.15px" textLength="30.1" lengthAdjust="spacingAndGlyphs">1</text>
<text x="2238" y="732.4" text-anchor="end" font-size="65.5" style="fill:#7030a0;stroke-width:0.15px" textLength="77" lengthAdjust="spacingAndGlyphs">0.5</text>
</svg></body></html>
